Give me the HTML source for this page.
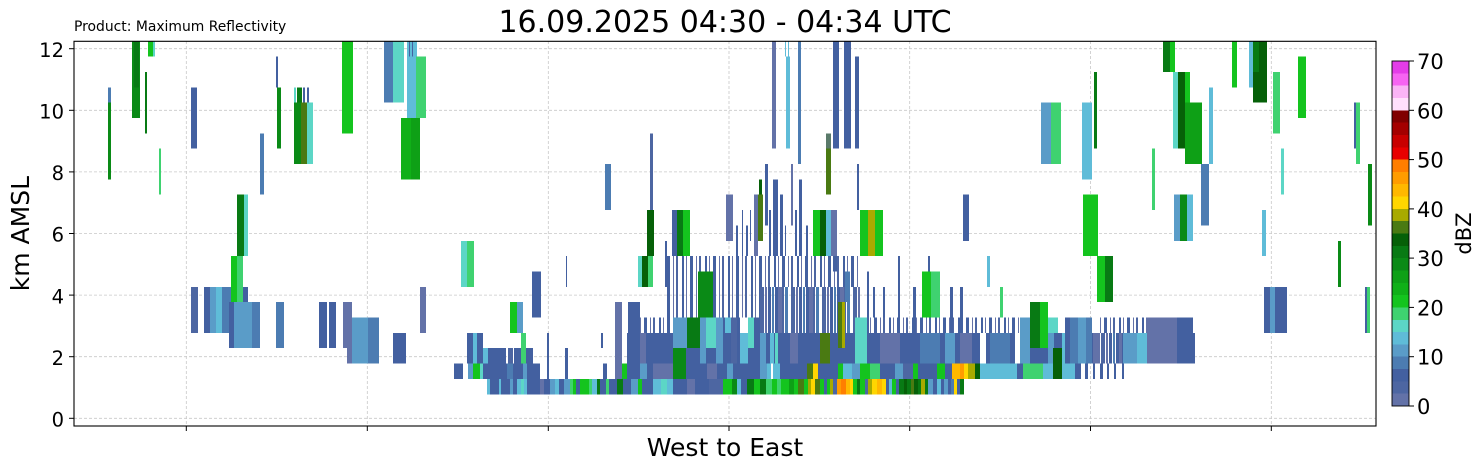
<!DOCTYPE html>
<html><head><meta charset="utf-8"><style>
html,body{margin:0;padding:0;background:#fff;}
svg{display:block}
text{font-family:"DejaVu Sans","Liberation Sans",sans-serif;fill:#000}
.a{fill:#6372a8}.b{fill:#4d66a2}.c{fill:#4360a0}.d{fill:#4c7cb2}.e{fill:#5a9cc8}.f{fill:#5fbcd8}.g{fill:#5cd6c6}.h{fill:#3fd270}.i{fill:#14c41e}.j{fill:#10b018}.k{fill:#0ea016}.l{fill:#0a8a16}.m{fill:#087a14}.n{fill:#066008}.o{fill:#4a7a12}.p{fill:#a8aa00}.q{fill:#ffd600}.r{fill:#ffb800}.s{fill:#ff9c00}.t{fill:#ff7e00}.gg{fill:#5a7a6a}
</style></head><body>
<svg width="1482" height="470" viewBox="0 0 1482 470" xmlns="http://www.w3.org/2000/svg">
<defs>
<clipPath id="cp"><rect x="74" y="41.3" width="1302" height="384.7"/></clipPath>
<pattern id="pd" patternUnits="userSpaceOnUse" x="0" y="0" width="31" height="40">
<rect x="0" y="0" width="3" height="40" fill="#4360a0"/><rect x="3" y="0" width="4" height="40" fill="#6372a8"/><rect x="7" y="0" width="2" height="40" fill="#4d66a2"/><rect x="10" y="0" width="3" height="40" fill="#4c7cb2"/><rect x="16" y="0" width="4" height="40" fill="#4d66a2"/><rect x="21" y="0" width="2" height="40" fill="#6372a8"/><rect x="24" y="0" width="3" height="40" fill="#4360a0"/><rect x="28" y="0" width="2" height="40" fill="#4c7cb2"/>
</pattern>
<pattern id="ps" patternUnits="userSpaceOnUse" x="0" y="0" width="23" height="40">
<rect x="0" y="0" width="3" height="40" fill="#4360a0"/><rect x="6" y="0" width="1" height="40" fill="#6372a8"/><rect x="9" y="0" width="2" height="40" fill="#4d66a2"/><rect x="15" y="0" width="2" height="40" fill="#4360a0"/><rect x="19" y="0" width="1" height="40" fill="#6372a8"/>
</pattern>
</defs>
<rect x="0" y="0" width="1482" height="470" fill="#fff"/>

<!-- grid -->
<g stroke="#c8c8c8" stroke-width="0.8" stroke-dasharray="3 2" fill="none">
<line x1="186.3" y1="41" x2="186.3" y2="426"/><line x1="367.3" y1="41" x2="367.3" y2="426"/><line x1="548.3" y1="41" x2="548.3" y2="426"/><line x1="729" y1="41" x2="729" y2="426"/><line x1="909.7" y1="41" x2="909.7" y2="426"/><line x1="1090.5" y1="41" x2="1090.5" y2="426"/><line x1="1271.3" y1="41" x2="1271.3" y2="426"/>
<line x1="74" y1="418.3" x2="1376" y2="418.3"/><line x1="74" y1="356.7" x2="1376" y2="356.7"/><line x1="74" y1="295.1" x2="1376" y2="295.1"/><line x1="74" y1="233.5" x2="1376" y2="233.5"/><line x1="74" y1="171.9" x2="1376" y2="171.9"/><line x1="74" y1="110.3" x2="1376" y2="110.3"/><line x1="74" y1="48.7" x2="1376" y2="48.7"/>
</g>

<g clip-path="url(#cp)"><g transform="translate(0 394.3) scale(1 -15.35)" shape-rendering="crispEdges">
<!-- patterned dense areas -->
<rect fill="url(#ps)" x="640" y="4" width="33" height="1"/>
<rect fill="url(#ps)" x="665" y="5" width="95" height="4"/>
<rect fill="url(#pd)" x="760" y="4" width="100" height="3"/>
<rect fill="url(#ps)" x="760" y="7" width="100" height="2"/>
<rect fill="url(#ps)" x="860" y="4" width="170" height="1"/>
<rect fill="url(#ps)" x="1100" y="4" width="47" height="1"/>

<!-- upper left -->
<rect class="d" x="108" y="19" width="3" height="1"/>
<rect class="l" x="108" y="14" width="3" height="5"/>
<rect class="l" x="132" y="18" width="8" height="5"/>
<rect class="m" x="134" y="20" width="5" height="3"/>
<rect class="i" x="148" y="22" width="5" height="1"/>
<rect class="g" x="153" y="22" width="2" height="1"/>
<rect class="m" x="145" y="17" width="2" height="4"/>
<rect class="h" x="159" y="13" width="2" height="3"/>
<rect class="c" x="191" y="16" width="6" height="4"/>
<rect class="d" x="260" y="13" width="4" height="4"/>
<rect class="c" x="276" y="20" width="2" height="2"/>
<rect class="l" x="277" y="16" width="4" height="4"/>
<rect class="g" x="294" y="19" width="2" height="1"/>
<rect class="m" x="297" y="19" width="5" height="1"/>
<rect class="c" x="303" y="19" width="2" height="1"/>
<rect class="c" x="307" y="19" width="2" height="1"/>
<rect class="l" x="294" y="15" width="7" height="4"/>
<rect class="o" x="301" y="15" width="6" height="4"/>
<rect class="g" x="307" y="15" width="6" height="4"/>
<rect class="i" x="342" y="17" width="11" height="6"/>
<rect class="d" x="384" y="19" width="9" height="4"/>
<rect class="g" x="393" y="19" width="11" height="4"/>
<rect class="f" x="407" y="18" width="10" height="5"/>
<rect class="h" x="416" y="18" width="10" height="4"/>
<rect class="c" x="409" y="22" width="1" height="1"/>
<rect class="c" x="412" y="22" width="1" height="1"/>
<rect class="j" x="401" y="14" width="10" height="4"/>
<rect class="k" x="411" y="14" width="9" height="4"/>
<!-- lower-left blues -->
<rect class="b" x="191" y="4" width="7" height="3"/>
<rect class="c" x="204" y="4" width="6" height="3"/>
<rect class="e" x="210" y="4" width="6" height="3"/>
<rect class="f" x="216" y="4" width="6" height="3"/>
<rect class="d" x="222" y="4" width="9" height="3"/>
<rect class="c" x="241" y="6" width="7" height="1"/>
<rect class="c" x="229" y="3" width="6" height="3"/>
<rect class="e" x="234" y="3" width="18" height="3"/>
<rect class="d" x="252" y="3" width="8" height="3"/>
<rect class="d" x="276" y="3" width="8" height="3"/>
<rect class="c" x="319" y="3" width="8" height="3"/>
<rect class="c" x="329" y="3" width="7" height="3"/>
<rect class="a" x="343" y="3" width="9" height="3"/>
<rect class="a" x="347" y="2" width="5" height="3"/>
<rect class="e" x="352" y="2" width="16" height="3"/>
<rect class="d" x="368" y="2" width="11" height="3"/>
<rect class="c" x="393" y="2" width="13" height="2"/>
<rect class="a" x="420" y="4" width="6" height="3"/>
<rect class="m" x="237" y="9" width="7" height="4"/>
<rect class="g" x="244" y="9" width="4" height="4"/>
<rect class="i" x="231" y="6" width="6" height="3"/>
<rect class="h" x="237" y="6" width="6" height="3"/>

<!-- middle-left -->
<rect class="g" x="461" y="7" width="6" height="3"/>
<rect class="h" x="467" y="7" width="7" height="3"/>
<rect class="c" x="532" y="5" width="9" height="3"/>
<rect class="i" x="510" y="4" width="7" height="2"/>
<rect class="e" x="517" y="4" width="6" height="2"/>
<rect class="c" x="467" y="2" width="6" height="2"/>
<rect class="f" x="473" y="2" width="4" height="2"/>
<rect class="c" x="477" y="2" width="6" height="2"/>
<rect class="f" x="483" y="2" width="5" height="1"/>
<rect class="c" x="488" y="2" width="18" height="1"/>
<rect class="b" x="508" y="2" width="5" height="1"/>
<rect class="c" x="514" y="2" width="7" height="1"/>
<rect class="c" x="526" y="2" width="7" height="1"/>
<rect class="h" x="521" y="2" width="5" height="2"/>
<rect class="c" x="454" y="1" width="9" height="1"/>
<rect class="e" x="468" y="1" width="5" height="1"/>
<rect class="i" x="473" y="1" width="7" height="1"/>
<rect class="g" x="480" y="1" width="3" height="1"/>
<rect class="c" x="483" y="1" width="24" height="1"/>
<rect class="d" x="507" y="1" width="6" height="1"/>
<rect class="c" x="513" y="1" width="10" height="1"/>
<rect class="e" x="523" y="1" width="4" height="1"/>
<rect class="c" x="527" y="1" width="13" height="1"/>
<rect class="c" x="547" y="1" width="2" height="3"/>
<rect class="c" x="565" y="1" width="3" height="2"/>
<rect class="c" x="566" y="7" width="1" height="2"/>
<rect class="c" x="603" y="1" width="4" height="1"/>
<rect class="c" x="601" y="3" width="2" height="1"/>
<!-- row 0 -->
<rect class="f" x="487" y="0" width="3" height="1"/>
<rect class="c" x="490" y="0" width="9" height="1"/>
<rect class="f" x="499" y="0" width="2" height="1"/>
<rect class="c" x="501" y="0" width="9" height="1"/>
<rect class="e" x="510" y="0" width="3" height="1"/>
<rect class="c" x="513" y="0" width="4" height="1"/>
<rect class="f" x="517" y="0" width="4" height="1"/>
<rect class="g" x="521" y="0" width="3" height="1"/>
<rect class="f" x="524" y="0" width="3" height="1"/>
<rect class="c" x="527" y="0" width="13" height="1"/>
<rect class="a" x="540" y="0" width="4" height="1"/>
<rect class="c" x="544" y="0" width="6" height="1"/>
<rect class="e" x="550" y="0" width="5" height="1"/>
<rect class="f" x="555" y="0" width="4" height="1"/>
<rect class="c" x="559" y="0" width="5" height="1"/>
<rect class="e" x="564" y="0" width="6" height="1"/>
<rect class="h" x="570" y="0" width="3" height="1"/>
<rect class="i" x="573" y="0" width="3" height="1"/>
<rect class="c" x="576" y="0" width="4" height="1"/>
<rect class="i" x="580" y="0" width="9" height="1"/>
<rect class="h" x="589" y="0" width="3" height="1"/>
<rect class="f" x="592" y="0" width="5" height="1"/>
<rect class="m" x="597" y="0" width="3" height="1"/>
<rect class="c" x="600" y="0" width="6" height="1"/>
<rect class="h" x="606" y="0" width="3" height="1"/>
<rect class="c" x="609" y="0" width="8" height="1"/>
<rect class="m" x="617" y="0" width="6" height="1"/>
<rect class="c" x="623" y="0" width="8" height="1"/>
<rect class="e" x="631" y="0" width="7" height="1"/>
<rect class="i" x="638" y="0" width="4" height="1"/>
<rect class="c" x="642" y="0" width="11" height="1"/>
<rect class="f" x="653" y="0" width="8" height="1"/>
<rect class="g" x="661" y="0" width="6" height="1"/>
<rect class="f" x="667" y="0" width="6" height="1"/>
<rect class="c" x="673" y="0" width="14" height="1"/>
<rect class="a" x="687" y="0" width="8" height="1"/>
<rect class="c" x="695" y="0" width="14" height="1"/>
<rect class="b" x="709" y="0" width="14" height="1"/>
<rect class="i" x="723" y="0" width="9" height="1"/>
<rect class="l" x="732" y="0" width="5" height="1"/>
<rect class="f" x="737" y="0" width="4" height="1"/>
<rect class="c" x="741" y="0" width="6" height="1"/>
<rect class="m" x="747" y="0" width="7" height="1"/>
<rect class="i" x="754" y="0" width="6" height="1"/>
<rect class="m" x="760" y="0" width="6" height="1"/>
<rect class="h" x="766" y="0" width="6" height="1"/>
<rect class="i" x="772" y="0" width="5" height="1"/>
<rect class="h" x="777" y="0" width="4" height="1"/>
<rect class="i" x="781" y="0" width="8" height="1"/>
<rect class="k" x="789" y="0" width="5" height="1"/>
<rect class="i" x="794" y="0" width="4" height="1"/>
<rect class="o" x="798" y="0" width="6" height="1"/>
<rect class="i" x="804" y="0" width="4" height="1"/>
<rect class="p" x="808" y="0" width="3" height="1"/>
<rect class="q" x="811" y="0" width="4" height="1"/>
<rect class="o" x="815" y="0" width="5" height="1"/>
<rect class="i" x="820" y="0" width="4" height="1"/>
<rect class="c" x="824" y="0" width="3" height="1"/>
<rect class="i" x="827" y="0" width="3" height="1"/>
<rect class="p" x="830" y="0" width="3" height="1"/>
<rect class="b" x="833" y="0" width="4" height="1"/>
<rect class="s" x="837" y="0" width="4" height="1"/>
<rect class="t" x="841" y="0" width="5" height="1"/>
<rect class="r" x="846" y="0" width="4" height="1"/>
<rect class="q" x="850" y="0" width="3" height="1"/>
<rect class="i" x="853" y="0" width="4" height="1"/>
<rect class="m" x="857" y="0" width="3" height="1"/>
<rect class="i" x="860" y="0" width="5" height="1"/>
<rect class="b" x="865" y="0" width="3" height="1"/>
<rect class="p" x="868" y="0" width="4" height="1"/>
<rect class="q" x="872" y="0" width="5" height="1"/>
<rect class="r" x="877" y="0" width="5" height="1"/>
<rect class="q" x="882" y="0" width="4" height="1"/>
<rect class="c" x="886" y="0" width="3" height="1"/>
<rect class="f" x="889" y="0" width="3" height="1"/>
<rect class="i" x="892" y="0" width="4" height="1"/>
<rect class="c" x="896" y="0" width="3" height="1"/>
<rect class="m" x="899" y="0" width="5" height="1"/>
<rect class="n" x="904" y="0" width="3" height="1"/>
<rect class="m" x="907" y="0" width="4" height="1"/>
<rect class="o" x="911" y="0" width="3" height="1"/>
<rect class="n" x="914" y="0" width="4" height="1"/>
<rect class="m" x="918" y="0" width="3" height="1"/>
<rect class="p" x="921" y="0" width="4" height="1"/>
<rect class="m" x="925" y="0" width="3" height="1"/>
<rect class="e" x="928" y="0" width="5" height="1"/>
<rect class="c" x="933" y="0" width="4" height="1"/>
<rect class="f" x="937" y="0" width="4" height="1"/>
<rect class="c" x="941" y="0" width="3" height="1"/>
<rect class="e" x="944" y="0" width="4" height="1"/>
<rect class="c" x="948" y="0" width="3" height="1"/>
<rect class="d" x="951" y="0" width="3" height="1"/>
<rect class="q" x="954" y="0" width="3" height="1"/>
<rect class="c" x="957" y="0" width="3" height="1"/>
<rect class="m" x="960" y="0" width="4" height="1"/>

<!-- row 1 x615-760 -->
<rect class="a" x="615" y="1" width="7" height="1"/>
<rect class="i" x="622" y="1" width="5" height="1"/>
<rect class="c" x="627" y="1" width="13" height="1"/>
<rect class="e" x="640" y="1" width="7" height="1"/>
<rect class="c" x="647" y="1" width="6" height="1"/>
<rect class="a" x="653" y="1" width="20" height="1"/>
<rect class="c" x="686" y="1" width="21" height="1"/>
<rect class="a" x="707" y="1" width="10" height="1"/>
<rect class="c" x="717" y="1" width="10" height="1"/>
<rect class="e" x="727" y="1" width="6" height="1"/>
<rect class="c" x="733" y="1" width="27" height="1"/>
<!-- rows 2-4 x615-760 -->
<rect class="a" x="615" y="2" width="7" height="4"/>
<rect class="c" x="627" y="2" width="13" height="2"/>
<rect class="a" x="640" y="2" width="6" height="2"/>
<rect class="c" x="646" y="2" width="27" height="2"/>
<rect class="c" x="628" y="4" width="12" height="2"/>
<rect class="e" x="673" y="3" width="14" height="2"/>
<rect class="l" x="673" y="1" width="13" height="2"/>
<rect class="c" x="686" y="2" width="14" height="1"/>
<rect class="m" x="687" y="3" width="13" height="2"/>
<rect class="e" x="700" y="2" width="6" height="3"/>
<rect class="c" x="706" y="2" width="10" height="1"/>
<rect class="g" x="706" y="3" width="10" height="2"/>
<rect class="e" x="716" y="2" width="7" height="3"/>
<rect class="c" x="723" y="2" width="8" height="3"/>
<rect class="f" x="725" y="4" width="6" height="1"/>
<rect class="b" x="731" y="2" width="6" height="3"/>
<rect class="c" x="737" y="2" width="3" height="3"/>
<rect class="f" x="740" y="2" width="8" height="2"/>
<rect class="c" x="748" y="2" width="12" height="1"/>
<rect class="g" x="748" y="3" width="6" height="2"/>
<rect class="c" x="754" y="3" width="6" height="2"/>
<!-- upper blocks middle-left -->
<rect class="d" x="605" y="12" width="6" height="3"/>
<rect class="b" x="650" y="9" width="3" height="8"/>
<rect class="n" x="647" y="9" width="7" height="3"/>
<rect class="g" x="638" y="7" width="4" height="2"/>
<rect class="n" x="642" y="7" width="6" height="2"/>
<rect class="h" x="648" y="7" width="5" height="2"/>
<rect class="c" x="665" y="7" width="2" height="3"/>
<rect class="c" x="672" y="9" width="5" height="3"/>
<rect class="m" x="677" y="9" width="6" height="3"/>
<rect class="i" x="683" y="9" width="7" height="3"/>
<rect class="l" x="698" y="5" width="15" height="3"/>

<!-- middle rows 1-4 x760-1195 -->
<rect class="c" x="760" y="2" width="435" height="2"/>
<rect class="e" x="760" y="1" width="7" height="1"/>
<rect class="f" x="767" y="1" width="4" height="1"/>
<rect class="f" x="773" y="1" width="7" height="1"/>
<rect class="c" x="780" y="1" width="27" height="1"/>
<rect class="o" x="807" y="1" width="6" height="1"/>
<rect class="q" x="813" y="1" width="5" height="1"/>
<rect class="c" x="818" y="1" width="20" height="1"/>
<rect class="i" x="838" y="1" width="5" height="1"/>
<rect class="f" x="843" y="1" width="9" height="1"/>
<rect class="e" x="852" y="1" width="8" height="1"/>
<rect class="i" x="860" y="1" width="10" height="1"/>
<rect class="h" x="870" y="1" width="10" height="1"/>
<rect class="c" x="880" y="1" width="15" height="1"/>
<rect class="e" x="895" y="1" width="8" height="1"/>
<rect class="b" x="903" y="1" width="10" height="1"/>
<rect class="i" x="913" y="1" width="5" height="1"/>
<rect class="c" x="918" y="1" width="19" height="1"/>
<rect class="i" x="937" y="1" width="8" height="1"/>
<rect class="c" x="945" y="1" width="7" height="1"/>
<rect class="r" x="952" y="1" width="8" height="1"/>
<rect class="s" x="960" y="1" width="4" height="1"/>
<rect class="q" x="964" y="1" width="4" height="1"/>
<rect class="p" x="968" y="1" width="7" height="1"/>
<rect class="n" x="975" y="1" width="5" height="1"/>
<rect class="f" x="980" y="1" width="37" height="1"/>
<rect class="c" x="1017" y="1" width="6" height="1"/>
<rect class="h" x="1023" y="1" width="20" height="1"/>
<rect class="f" x="1043" y="1" width="10" height="1"/>
<rect class="f" x="1062" y="1" width="13" height="1"/>
<rect class="c" x="1075" y="1" width="6" height="1"/>
<rect class="c" x="1085" y="1" width="3" height="1"/>
<rect class="c" x="1093" y="1" width="2" height="1"/>
<rect class="c" x="1100" y="1" width="3" height="1"/>
<rect class="c" x="1107" y="1" width="2" height="1"/>
<rect class="c" x="1114" y="1" width="2" height="1"/>
<rect class="c" x="1122" y="1" width="2" height="1"/>
<rect class="e" x="760" y="2" width="6" height="2"/>
<rect class="f" x="770" y="2" width="4" height="2"/>
<rect class="g" x="775" y="2" width="3" height="2"/>
<rect class="a" x="790" y="2" width="8" height="2"/>
<rect class="o" x="820" y="2" width="10" height="2"/>
<rect class="o" x="838" y="3" width="4" height="3"/>
<rect class="p" x="842" y="3" width="3" height="3"/>
<rect class="g" x="855" y="2" width="12" height="3"/>
<rect class="a" x="880" y="2" width="20" height="2"/>
<rect class="d" x="920" y="2" width="20" height="2"/>
<rect class="e" x="945" y="2" width="10" height="2"/>
<rect class="a" x="960" y="2" width="12" height="2"/>
<rect fill="#fff" x="980" y="2" width="6" height="2"/>
<rect class="d" x="990" y="2" width="20" height="2"/>
<rect fill="#fff" x="1015" y="2" width="5" height="2"/>
<rect class="e" x="1020" y="2" width="10" height="3"/>
<rect class="e" x="1048" y="2" width="6" height="2"/>
<rect class="g" x="1048" y="4" width="10" height="1"/>
<rect class="n" x="1053" y="1" width="9" height="2"/>
<rect class="f" x="1062" y="2" width="3" height="2"/>
<rect class="c" x="1065" y="2" width="5" height="3"/>
<rect class="d" x="1070" y="2" width="22" height="3"/>
<rect class="e" x="1078" y="2" width="8" height="3"/>
<rect class="a" x="1093" y="2" width="7" height="2"/>
<rect fill="#fff" x="1100" y="2" width="22" height="2"/>
<rect fill="url(#pd)" x="1100" y="2" width="22" height="2"/>
<rect class="e" x="1123" y="2" width="14" height="2"/>
<rect class="f" x="1137" y="2" width="10" height="2"/>
<rect class="a" x="1147" y="2" width="30" height="3"/>
<rect class="c" x="1177" y="2" width="16" height="3"/>
<rect class="m" x="1030" y="3" width="10" height="3"/>
<rect class="i" x="1040" y="3" width="8" height="3"/>
<!-- sparse lines rows 4-8 x860-1000 -->
<rect class="c" x="867" y="4" width="2" height="4"/>
<rect class="c" x="873" y="5" width="2" height="2"/>
<rect class="c" x="883" y="5" width="2" height="2"/>
<rect class="c" x="898" y="5" width="2" height="4"/>
<rect class="c" x="913" y="4" width="3" height="3"/>
<rect class="c" x="950" y="4" width="3" height="3"/>
<rect class="c" x="960" y="4" width="3" height="3"/>
<rect class="c" x="928" y="8" width="2" height="1"/>
<rect class="d" x="845" y="6" width="5" height="2"/>
<rect class="i" x="922" y="5" width="9" height="3"/>
<rect class="h" x="931" y="5" width="9" height="3"/>
<rect class="h" x="1000" y="5" width="3" height="2"/>
<rect class="f" x="987" y="7" width="3" height="2"/>
<!-- mid upper lines/blocks -->
<rect class="c" x="736" y="9" width="2" height="2"/>
<rect class="c" x="742" y="9" width="1" height="3"/>
<rect class="c" x="746" y="9" width="2" height="2"/>
<rect class="c" x="750" y="10" width="1" height="2"/>
<rect class="c" x="785" y="9" width="1" height="2"/>
<rect class="c" x="795" y="9" width="2" height="3"/>
<rect class="c" x="806" y="9" width="2" height="2"/>
<rect class="a" x="726" y="10" width="7" height="3"/>
<rect class="a" x="754" y="9" width="4" height="4"/>
<rect class="o" x="758" y="10" width="5" height="3"/>
<rect class="n" x="759" y="13" width="3" height="1"/>
<rect class="c" x="765" y="11" width="3" height="4"/>
<rect class="c" x="769" y="9" width="2" height="3"/>
<rect class="c" x="773" y="9" width="5" height="5"/>
<rect class="c" x="780" y="9" width="3" height="4"/>
<rect class="a" x="791" y="11" width="2" height="4"/>
<rect class="c" x="799" y="9" width="3" height="5"/>
<rect class="c" x="833" y="8" width="4" height="4"/>
<rect class="c" x="857" y="12" width="2" height="3"/>
<rect class="i" x="813" y="9" width="7" height="3"/>
<rect class="n" x="820" y="9" width="6" height="3"/>
<rect class="f" x="826" y="9" width="5" height="3"/>
<rect class="a" x="831" y="9" width="6" height="3"/>
<rect class="i" x="860" y="9" width="8" height="3"/>
<rect class="p" x="868" y="9" width="7" height="3"/>
<rect class="i" x="875" y="9" width="8" height="3"/>
<rect class="c" x="963" y="10" width="6" height="3"/>
<rect class="o" x="826" y="13" width="5" height="3"/>
<rect class="gg" x="826" y="16" width="5" height="1"/>
<rect class="a" x="772" y="16" width="4" height="7"/>
<rect class="f" x="786" y="16" width="4" height="6"/>
<rect class="f" x="785" y="22" width="1" height="1"/>
<rect class="f" x="788" y="22" width="1" height="1"/>
<rect class="d" x="798" y="15" width="3" height="8"/>
<rect class="c" x="833" y="16" width="6" height="7"/>
<rect class="c" x="844" y="16" width="7" height="7"/>
<rect class="c" x="855" y="16" width="4" height="6"/>

<!-- right side -->
<rect class="i" x="1083" y="9" width="15" height="4"/>
<rect class="i" x="1097" y="6" width="8" height="3"/>
<rect class="m" x="1105" y="6" width="8" height="3"/>
<rect class="e" x="1174" y="10" width="6" height="3"/>
<rect class="l" x="1180" y="10" width="7" height="3"/>
<rect class="f" x="1187" y="10" width="6" height="3"/>
<rect class="m" x="1163" y="21" width="7" height="2"/>
<rect class="i" x="1170" y="21" width="5" height="2"/>
<rect class="g" x="1173" y="16" width="5" height="5"/>
<rect class="n" x="1178" y="16" width="7" height="5"/>
<rect class="i" x="1185" y="19" width="5" height="2"/>
<rect class="k" x="1185" y="15" width="17" height="4"/>
<rect class="f" x="1209" y="15" width="4" height="5"/>
<rect class="d" x="1201" y="11" width="8" height="4"/>
<rect class="i" x="1232" y="20" width="5" height="3"/>
<rect class="f" x="1249" y="20" width="4" height="3"/>
<rect class="n" x="1253" y="19" width="14" height="4"/>
<rect class="m" x="1253" y="21" width="6" height="2"/>
<rect class="h" x="1273" y="17" width="7" height="4"/>
<rect class="i" x="1298" y="18" width="8" height="4"/>
<rect class="g" x="1281" y="13" width="3" height="3"/>
<rect class="c" x="1354" y="16" width="2" height="3"/>
<rect class="h" x="1356" y="15" width="4" height="4"/>
<rect class="l" x="1368" y="11" width="4" height="4"/>
<rect class="l" x="1338" y="7" width="3" height="3"/>
<rect class="f" x="1262" y="9" width="4" height="3"/>
<rect class="c" x="1365" y="4" width="2" height="3"/>
<rect class="h" x="1367" y="4" width="3" height="3"/>
<rect class="c" x="1264" y="4" width="6" height="3"/>
<rect class="e" x="1270" y="4" width="5" height="3"/>
<rect class="c" x="1275" y="4" width="12" height="3"/>
<rect class="e" x="1041" y="15" width="10" height="4"/>
<rect class="h" x="1051" y="15" width="10" height="4"/>
<rect class="f" x="1082" y="14" width="10" height="5"/>
<rect class="m" x="1094" y="16" width="3" height="5"/>
<rect class="h" x="1152" y="12" width="3" height="4"/>
</g></g>

<!-- frame -->
<rect x="74" y="41.3" width="1302" height="384.7" fill="none" stroke="#000" stroke-width="1.1"/>
<!-- ticks -->
<g stroke="#000" stroke-width="1">
<line x1="69" y1="418.3" x2="74" y2="418.3"/><line x1="69" y1="356.7" x2="74" y2="356.7"/><line x1="69" y1="295.1" x2="74" y2="295.1"/><line x1="69" y1="233.5" x2="74" y2="233.5"/><line x1="69" y1="171.9" x2="74" y2="171.9"/><line x1="69" y1="110.3" x2="74" y2="110.3"/><line x1="69" y1="48.7" x2="74" y2="48.7"/>
<line x1="186.3" y1="426" x2="186.3" y2="431"/><line x1="367.3" y1="426" x2="367.3" y2="431"/><line x1="548.3" y1="426" x2="548.3" y2="431"/><line x1="729" y1="426" x2="729" y2="431"/><line x1="909.7" y1="426" x2="909.7" y2="431"/><line x1="1090.5" y1="426" x2="1090.5" y2="431"/><line x1="1271.3" y1="426" x2="1271.3" y2="431"/>
</g>
<g font-size="19.5" text-anchor="end">
<text x="64" y="426.5">0</text><text x="64" y="364.9">2</text><text x="64" y="303.3">4</text><text x="64" y="241.7">6</text><text x="64" y="180.1">8</text><text x="64" y="118.5">10</text><text x="64" y="56.9">12</text>
</g>

<text x="74" y="31" font-size="13.9">Product: Maximum Reflectivity</text>
<text x="725" y="32" font-size="30" text-anchor="middle">16.09.2025 04:30 - 04:34 UTC</text>
<text x="725" y="456" font-size="25" text-anchor="middle">West to East</text>
<text transform="translate(29 233.6) rotate(-90)" font-size="25" text-anchor="middle">km AMSL</text>

<!-- colorbar -->
<g transform="translate(1392 406) scale(1 -12.321)" shape-rendering="crispEdges">
<rect x="0" y="0" width="17" height="1.05" fill="#6372a8"/>
<rect x="0" y="1" width="17" height="1.05" fill="#4d66a2"/>
<rect x="0" y="2" width="17" height="1.05" fill="#4360a0"/>
<rect x="0" y="3" width="17" height="1.05" fill="#4c7cb2"/>
<rect x="0" y="4" width="17" height="1.05" fill="#5a9cc8"/>
<rect x="0" y="5" width="17" height="1.05" fill="#5fbcd8"/>
<rect x="0" y="6" width="17" height="1.05" fill="#5cd6c6"/>
<rect x="0" y="7" width="17" height="1.05" fill="#3fd270"/>
<rect x="0" y="8" width="17" height="1.05" fill="#14c41e"/>
<rect x="0" y="9" width="17" height="1.05" fill="#10b018"/>
<rect x="0" y="10" width="17" height="1.05" fill="#0ea016"/>
<rect x="0" y="11" width="17" height="1.05" fill="#0a8a16"/>
<rect x="0" y="12" width="17" height="1.05" fill="#087a14"/>
<rect x="0" y="13" width="17" height="1.05" fill="#066008"/>
<rect x="0" y="14" width="17" height="1.05" fill="#4a7a12"/>
<rect x="0" y="15" width="17" height="1.05" fill="#a8aa00"/>
<rect x="0" y="16" width="17" height="1.05" fill="#ffd600"/>
<rect x="0" y="17" width="17" height="1.05" fill="#ffb800"/>
<rect x="0" y="18" width="17" height="1.05" fill="#ff9c00"/>
<rect x="0" y="19" width="17" height="1.05" fill="#ff7e00"/>
<rect x="0" y="20" width="17" height="1.05" fill="#e80000"/>
<rect x="0" y="21" width="17" height="1.05" fill="#c80000"/>
<rect x="0" y="22" width="17" height="1.05" fill="#a40000"/>
<rect x="0" y="23" width="17" height="1.05" fill="#800000"/>
<rect x="0" y="24" width="17" height="1.05" fill="#ffe0fc"/>
<rect x="0" y="25" width="17" height="1.05" fill="#fab4f6"/>
<rect x="0" y="26" width="17" height="1.05" fill="#f664f2"/>
<rect x="0" y="27" width="17" height="1" fill="#e43ce8"/>
</g>
<rect x="1392" y="61" width="17" height="345" fill="none" stroke="#000" stroke-width="0.9"/>
<g stroke="#000" stroke-width="1">
<line x1="1409" y1="406" x2="1414" y2="406"/><line x1="1409" y1="356.7" x2="1414" y2="356.7"/><line x1="1409" y1="307.4" x2="1414" y2="307.4"/><line x1="1409" y1="258.1" x2="1414" y2="258.1"/><line x1="1409" y1="208.9" x2="1414" y2="208.9"/><line x1="1409" y1="159.6" x2="1414" y2="159.6"/><line x1="1409" y1="110.3" x2="1414" y2="110.3"/><line x1="1409" y1="61" x2="1414" y2="61"/>
</g>
<g font-size="21">
<text x="1417" y="414">0</text><text x="1417" y="364.7">10</text><text x="1417" y="315.4">20</text><text x="1417" y="266.1">30</text><text x="1417" y="216.9">40</text><text x="1417" y="167.6">50</text><text x="1417" y="118.3">60</text><text x="1417" y="69">70</text>
</g>
<text transform="translate(1471 233.5) rotate(-90)" font-size="21" text-anchor="middle">dBZ</text>
</svg>
</body></html>
